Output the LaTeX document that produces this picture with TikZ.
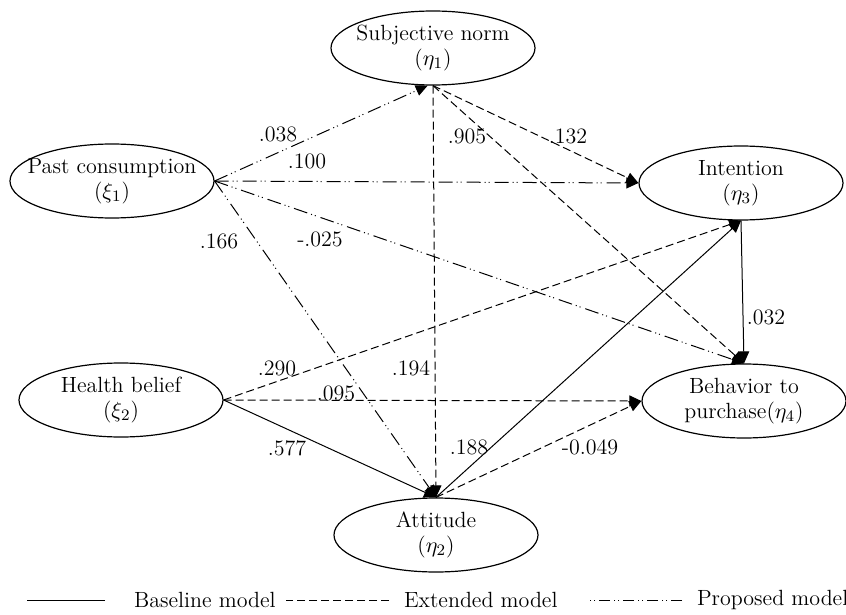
\documentclass[tikz,border=0pt]{standalone}
\usepackage{amsmath}
\usepackage{tikz}
\usetikzlibrary{shapes,arrows.meta,positioning}

\begin{document}
\begin{tikzpicture}[
    x=0.5pt, y=-0.5pt,
    font=\fontsize{11}{12.5}\selectfont,
    latent/.style={ellipse, draw, line width=0.6pt, minimum width=102pt, minimum height=37pt, inner sep=0pt},
    coef/.style={inner sep=1pt},
    link/.style={-{Triangle[length=6pt, width=5.5pt]}, line width=0.5pt},
    baseline/.style={link},
    extended/.style={link, dash pattern=on 4pt off 2pt},
    proposed/.style={link, dash pattern=on 7pt off 2pt on 0.5pt off 1.5pt on 0.5pt off 2.5pt}
]
\useasboundingbox (0,0) rectangle (846,615);

% Constructs
\node[latent, label={[align=center]center:{Subjective norm\\($\eta_1$)}}] (norm) at (433,48) {};
\node[latent, label={[align=center]center:{Past consumption\\($\xi_1$)}}] (past) at (112,181) {};
\node[latent, label={[align=center]center:{Intention\\($\eta_3$)}}] (intent) at (741,183) {};
\node[latent, label={[align=center]center:{Health belief\\($\xi_2$)}}] (health) at (121,400) {};
\node[latent, label={[align=center]center:{Behavior to\\purchase($\eta_4$)}}] (behav) at (744,401) {};
\node[latent, label={[align=center]center:{Attitude\\($\eta_2$)}}] (attit) at (436,535) {};

% Paths
\draw[proposed] (past.east) -- (norm.262);
\draw[proposed] (past.east) -- (intent.west);
\draw[proposed] (past.east) -- (behav.north);
\draw[proposed] (past.east) -- (attit.north);
\draw[extended] (norm.south) -- (intent.west);
\draw[extended] (norm.south) -- (behav.north);
\draw[extended] (norm.south) -- (attit.north);
\draw[extended] (health.east) -- (intent.south);
\draw[extended] (health.east) -- (behav.west);
\draw[baseline] (health.east) -- (attit.north);
\draw[baseline] (attit.north) -- (intent.south);
\draw[extended] (attit.north) -- (behav.west);
\draw[baseline] (intent.south) -- (behav.north);

% Coefficients
\node[coef] (c038) at (278,134) {.038};
\node[coef] (c100) at (307,161) {.100};
\node[coef] (c166) at (219,241) {.166};
\node[coef] (c025) at (320,239) {-.025};
\node[coef] (c905) at (467,136) {.905};
\node[coef] (c132) at (568,136) {.132};
\node[coef] (c032) at (766,317) {.032};
\node[coef] (c290) at (277,368) {.290};
\node[coef] (c095) at (336,393) {.095};
\node[coef] (c194) at (411,368) {.194};
\node[coef] (c577) at (287,448) {.577};
\node[coef] (c188) at (469,447) {.188};
\node[coef] (c049) at (590,447) {-0.049};

% Legend
\node[anchor=west] (lbase) at (127,600) {Baseline model};
\node[anchor=west] (lext) at (397,600) {Extended model};
\node[anchor=west] (lprop) at (690,600) {Proposed model};
\draw[line width=0.5pt] ([xshift=-11pt]lbase.west) -- ++(-78,0);
\draw[line width=0.5pt, dash pattern=on 4pt off 2pt] ([xshift=-4pt]lext.west) -- ++(-103,0);
\draw[line width=0.5pt, dash pattern=on 5.5pt off 2pt on 0.5pt off 1.5pt on 0.5pt off 2pt] ([xshift=-4pt]lprop.west) -- ++(-94,0);

\end{tikzpicture}
\end{document}
